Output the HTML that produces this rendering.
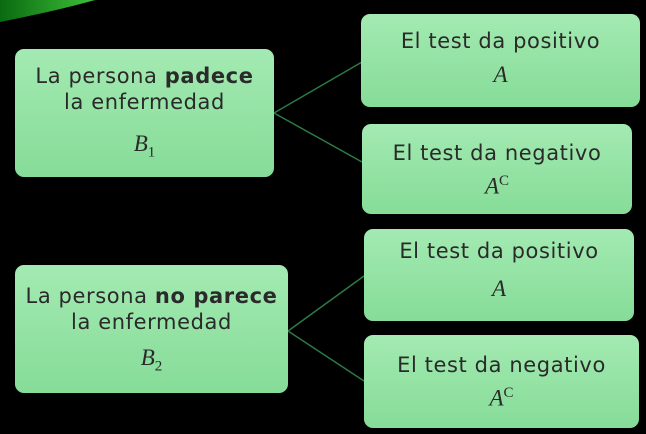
<!DOCTYPE html>
<html><head><meta charset="utf-8"><style>
body{margin:0;width:646px;height:434px;background:#000;position:relative;overflow:hidden;font-family:"DejaVu Sans","Liberation Sans",sans-serif;color:#2a2a2a}
.b{position:absolute;border-radius:9px;background:linear-gradient(#a3eab2,#86dc98);text-align:center;box-sizing:border-box}
.t{font-size:21px;line-height:26px;letter-spacing:0.6px;white-space:nowrap}
.m{font-family:"Liberation Serif",serif;font-style:italic;font-size:23px}
sub,sup{font-style:normal;font-size:15px}
</style></head><body>
<svg width="646" height="434" style="position:absolute;left:0;top:0">
<defs><linearGradient id="g" x1="0" x2="1"><stop offset="0" stop-color="#0a6a10"/><stop offset="1" stop-color="#3ec03a"/></linearGradient></defs>
<path d="M0 0 L95 0 Q60 10 0 22 Z" fill="url(#g)"/>
<g stroke="#2c7a44" stroke-width="1.5" fill="none">
<line x1="274" y1="113" x2="362" y2="62"/><line x1="274" y1="113" x2="362" y2="162"/>
<line x1="288" y1="331" x2="364" y2="276"/><line x1="288" y1="331" x2="364" y2="381"/>
</g></svg>
<div class="b" style="left:15px;top:49px;width:259px;height:128px;padding-top:14px"><div class="t">La persona <b>padece</b><br>la enfermedad</div><div class="m" style="margin-top:16px">B<sub>1</sub></div></div>
<div class="b" style="left:361px;top:14px;width:279px;height:93px;padding-top:14px"><div class="t">El test da positivo</div><div class="m" style="margin-top:8px">A</div></div>
<div class="b" style="left:362px;top:124px;width:270px;height:90px;padding-top:16px"><div class="t">El test da negativo</div><div class="m" style="margin-top:7px">A<sup>C</sup></div></div>
<div class="b" style="left:15px;top:265px;width:273px;height:128px;padding-top:18px"><div class="t">La persona <b>no parece</b><br>la enfermedad</div><div class="m" style="margin-top:10px">B<sub>2</sub></div></div>
<div class="b" style="left:364px;top:229px;width:270px;height:92px;padding-top:9px"><div class="t">El test da positivo</div><div class="m" style="margin-top:12px">A</div></div>
<div class="b" style="left:364px;top:335px;width:275px;height:93px;padding-top:17px"><div class="t">El test da negativo</div><div class="m" style="margin-top:7px">A<sup>C</sup></div></div>
</body></html>
